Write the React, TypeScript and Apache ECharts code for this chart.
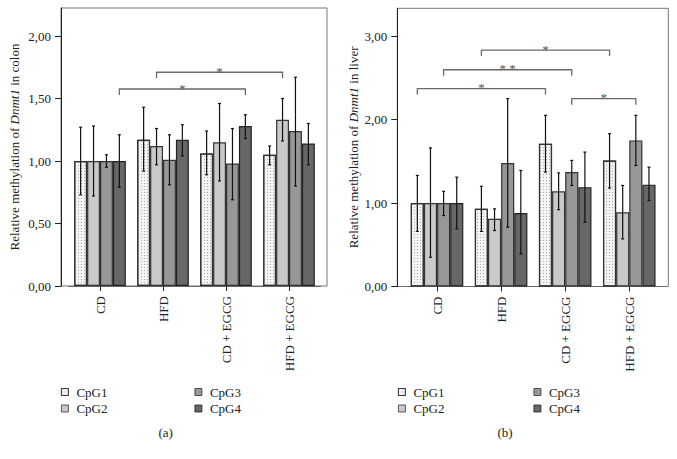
import React, { useEffect, useRef } from "react";
import * as echarts from "echarts";

const FONT = '"Liberation Serif", "Times New Roman", serif';

const categories = ["CD", "HFD", "CD + EGCG", "HFD + EGCG"];
const seriesNames = ["CpG1", "CpG2", "CpG3", "CpG4"];
const yTicksColon = [0, 0.5, 1, 1.5, 2];
const yTicksLiver = [0, 1, 2, 3];

// Colon (a)
const colonCpG1 = [1.0, 1.17, 1.06, 1.05];
const colonCpG2 = [1.0, 1.12, 1.15, 1.33];
const colonCpG3 = [1.0, 1.01, 0.98, 1.24];
const colonCpG4 = [1.0, 1.17, 1.28, 1.14];
const colonLow1 = [0.73, 0.92, 0.89, 0.97];
const colonHigh1 = [1.27, 1.43, 1.24, 1.12];
const colonLow2 = [0.72, 0.97, 0.84, 1.16];
const colonHigh2 = [1.28, 1.26, 1.46, 1.5];
const colonLow3 = [0.95, 0.81, 0.69, 0.8];
const colonHigh3 = [1.05, 1.21, 1.26, 1.67];
const colonLow4 = [0.79, 1.04, 1.18, 0.97];
const colonHigh4 = [1.21, 1.29, 1.37, 1.3];
const colonBrackets = [
  { fromCat: 1, fromS: 1, toCat: 3, toS: 1, y: 1.71, label: "*" },
  { fromCat: 0, fromS: 3, toCat: 2, toS: 3, y: 1.576, label: "*" },
];

// Liver (b)
const liverCpG1 = [1.0, 0.93, 1.71, 1.51];
const liverCpG2 = [1.0, 0.81, 1.14, 0.89];
const liverCpG3 = [1.0, 1.48, 1.37, 1.75];
const liverCpG4 = [1.0, 0.88, 1.19, 1.22];
const liverLow1 = [0.66, 0.66, 1.37, 1.18];
const liverHigh1 = [1.33, 1.2, 2.05, 1.83];
const liverLow2 = [0.35, 0.67, 0.92, 0.57];
const liverHigh2 = [1.66, 0.93, 1.36, 1.21];
const liverLow3 = [0.85, 0.71, 1.21, 1.45];
const liverHigh3 = [1.14, 2.25, 1.51, 2.05];
const liverLow4 = [0.69, 0.39, 0.77, 1.03];
const liverHigh4 = [1.31, 1.39, 1.61, 1.43];
const liverBrackets = [
  { fromCat: 1, fromS: 0, toCat: 3, toS: 0, y: 2.832, label: "*" },
  { fromCat: 0, fromS: 2, toCat: 2, toS: 2, y: 2.596, label: "**" },
  { fromCat: 0, fromS: 0, toCat: 2, toS: 0, y: 2.37, label: "*" },
  { fromCat: 2, fromS: 2, toCat: 3, toS: 2, y: 2.25, label: "*" },
];

const CAT_GAP = 0.18;

const barStyles = [
  {
    color: "#f4f4f4",
    borderColor: "#333",
    borderWidth: 1.2,
    decal: {
      symbol: "rect",
      symbolSize: 1,
      color: "#a8a8a8",
      dashArrayX: [1, 2],
      dashArrayY: [1, 2],
      rotation: 0,
    },
  },
  { color: "#c9c9c9", borderColor: "#333", borderWidth: 1.2 },
  { color: "#979797", borderColor: "#333", borderWidth: 1.2 },
  { color: "#676767", borderColor: "#222", borderWidth: 1.2 },
];

function fmt(v: number) {
  return v.toFixed(2).replace(".", ",");
}

function buildPanel(
  idx: number,
  means: number[][],
  lows: number[][],
  highs: number[][],
  brackets: any[],
  cfg: any
) {
  const grid = { left: cfg.left, top: cfg.top, width: cfg.width, height: cfg.height };
  const xAxis = {
    gridIndex: idx,
    type: "category",
    data: categories,
    axisLine: { show: true, lineStyle: { color: "#666", width: 1 } },
    axisTick: { show: true, alignWithLabel: true, length: 5, lineStyle: { color: "#222" } },
    axisLabel: {
      rotate: 90,
      interval: 0,
      margin: 10,
      fontFamily: FONT,
      fontSize: 13,
      color: "#222",
    },
    splitLine: { show: false },
  };
  const yAxis = {
    gridIndex: idx,
    type: "value",
    min: 0,
    max: cfg.max,
    interval: cfg.interval,
    offset: cfg.offset,
    axisLine: { show: true, lineStyle: { color: "#222", width: 1 } },
    axisTick: { show: true, length: 6, customValues: cfg.ticks, lineStyle: { color: "#222" } },
    axisLabel: {
      customValues: cfg.ticks,
      formatter: (v: number) => fmt(v),
      fontFamily: FONT,
      fontSize: 13,
      color: "#222",
      margin: 10,
    },
    splitLine: { show: false },
    name: `{n|Relative methylation of }{i|Dnmt1}{n| in ${cfg.organ}}`,
    nameLocation: "middle",
    nameGap: cfg.nameGap,
    nameRotate: 90,
    nameTextStyle: {
      rich: {
        n: { fontFamily: FONT, fontSize: 13, color: "#222" },
        i: { fontFamily: FONT, fontSize: 13, color: "#222", fontStyle: "italic" },
      },
    },
  };
  const series: any[] = [];
  means.forEach((m, s) => {
    series.push({
      type: "bar",
      name: seriesNames[s],
      xAxisIndex: idx,
      yAxisIndex: idx,
      data: m,
      barGap: "0%",
      barCategoryGap: CAT_GAP * 100 + "%",
      itemStyle: barStyles[s],
      emphasis: { disabled: true },
      z: 2,
    });
  });
  const errData: any[] = [];
  for (let s = 0; s < 4; s++) {
    for (let c = 0; c < 4; c++) {
      errData.push([categories[c], lows[s][c], highs[s][c], s]);
    }
  }
  series.push({
    type: "custom",
    xAxisIndex: idx,
    yAxisIndex: idx,
    data: errData,
    encode: { x: 0, y: [1, 2] },
    z: 5,
    silent: true,
    clip: false,
    itemStyle: { color: "#111" },
    renderItem: (params: any, api: any) => {
      const c = api.value(0);
      const lo = api.value(1);
      const hi = api.value(2);
      const s = api.value(3);
      const band = api.size([1, 0])[0];
      const bw = (band * (1 - CAT_GAP)) / 4;
      const p1 = api.coord([c, lo]);
      const p2 = api.coord([c, hi]);
      const x = p1[0] + (s - 1.5) * bw;
      const st = { stroke: "#111", lineWidth: 1.2 };
      return {
        type: "group",
        children: [
          { type: "line", shape: { x1: x, y1: p1[1], x2: x, y2: p2[1] }, style: st },
          { type: "line", shape: { x1: x - 1.5, y1: p1[1], x2: x + 1.5, y2: p1[1] }, style: st },
          { type: "line", shape: { x1: x - 1.5, y1: p2[1], x2: x + 1.5, y2: p2[1] }, style: st },
        ],
      };
    },
  });
  series.push({
    type: "custom",
    xAxisIndex: idx,
    yAxisIndex: idx,
    data: brackets.map((b, i) => [categories[b.fromCat], b.y, i]),
    encode: { x: 0, y: 1 },
    z: 6,
    silent: true,
    clip: false,
    itemStyle: { color: "#555" },
    renderItem: (params: any, api: any) => {
      const b = brackets[api.value(2)];
      const band = api.size([1, 0])[0];
      const bw = (band * (1 - CAT_GAP)) / 4;
      const a = api.coord([b.fromCat, b.y]);
      const e = api.coord([b.toCat, b.y]);
      const x1 = a[0] + (b.fromS - 1.5) * bw;
      const x2 = e[0] + (b.toS - 1.5) * bw;
      const y = a[1];
      return {
        type: "group",
        children: [
          {
            type: "polyline",
            shape: { points: [[x1, y + 6], [x1, y], [x2, y], [x2, y + 6]] },
            style: { stroke: "#6a6a6a", lineWidth: 1.3, fill: "none" },
          },
          {
            type: "text",
            x: (x1 + x2) / 2,
            y: y - 1,
            style: {
              text: b.label.split("").join(" "),
              align: "center",
              verticalAlign: "middle",
              fontFamily: FONT,
              fontSize: 13,
              fill: "#555",
            },
          },
        ],
      };
    },
  });
  return { grid, xAxis, yAxis, series };
}

function legendDef(names: string[], left: number) {
  return {
    data: names,
    orient: "vertical",
    left,
    top: 385.5,
    padding: 0,
    itemWidth: 7,
    itemHeight: 7,
    itemGap: 3.5,
    icon: "rect",
    selectedMode: false,
    itemStyle: { borderWidth: 0.8 },
    textStyle: { fontFamily: FONT, fontSize: 13, color: "#222", padding: [0, 0, 0, 3] },
  };
}

export default function App() {
  const ref = useRef<HTMLDivElement>(null);
  useEffect(() => {
    if (!ref.current) return;
    const chart = echarts.init(ref.current, null, { renderer: "svg" });
    const a = buildPanel(
      0,
      [colonCpG1, colonCpG2, colonCpG3, colonCpG4],
      [colonLow1, colonLow2, colonLow3, colonLow4],
      [colonHigh1, colonHigh2, colonHigh3, colonHigh4],
      colonBrackets,
      {
        left: 68.5,
        top: 8,
        width: 252,
        height: 278,
        max: 2.224,
        interval: 0.5,
        offset: 7.5,
        ticks: yTicksColon,
        organ: "colon",
        nameGap: 40,
      }
    );
    const b = buildPanel(
      1,
      [liverCpG1, liverCpG2, liverCpG3, liverCpG4],
      [liverLow1, liverLow2, liverLow3, liverLow4],
      [liverHigh1, liverHigh2, liverHigh3, liverHigh4],
      liverBrackets,
      {
        left: 405,
        top: 8.3,
        width: 256.3,
        height: 278.2,
        max: 3.332,
        interval: 1,
        offset: 7.7,
        ticks: yTicksLiver,
        organ: "liver",
        nameGap: 37,
      }
    );
    chart.setOption({
      animation: false,
      backgroundColor: "#fff",
      grid: [a.grid, b.grid],
      xAxis: [a.xAxis, b.xAxis],
      yAxis: [a.yAxis, b.yAxis],
      series: [...a.series, ...b.series],
      legend: [
        legendDef(["CpG1", "CpG2"], 61),
        legendDef(["CpG3", "CpG4"], 194.5),
        legendDef(["CpG1", "CpG2"], 398),
        legendDef(["CpG3", "CpG4"], 533.5),
      ],
      graphic: [
        {
          type: "rect",
          silent: true,
          z: 0,
          shape: { x: 61, y: 8, width: 266, height: 278 },
          style: { fill: "none", stroke: "#777", lineWidth: 1 },
        },
        {
          type: "rect",
          silent: true,
          z: 0,
          shape: { x: 397.3, y: 8.3, width: 271, height: 278.2 },
          style: { fill: "none", stroke: "#777", lineWidth: 1 },
        },
        {
          type: "text",
          x: 165.7,
          y: 432.7,
          style: { text: "(a)", align: "center", verticalAlign: "middle", fontFamily: FONT, fontSize: 13, fill: "#222" },
        },
        {
          type: "text",
          x: 505,
          y: 432.7,
          style: { text: "(b)", align: "center", verticalAlign: "middle", fontFamily: FONT, fontSize: 13, fill: "#222" },
        },
      ],
    });
    return () => chart.dispose();
  }, []);
  return (
    <div
      ref={ref}
      style={{ position: "fixed", left: 0, top: 0, width: 677, height: 459, background: "#fff" }}
    />
  );
}
